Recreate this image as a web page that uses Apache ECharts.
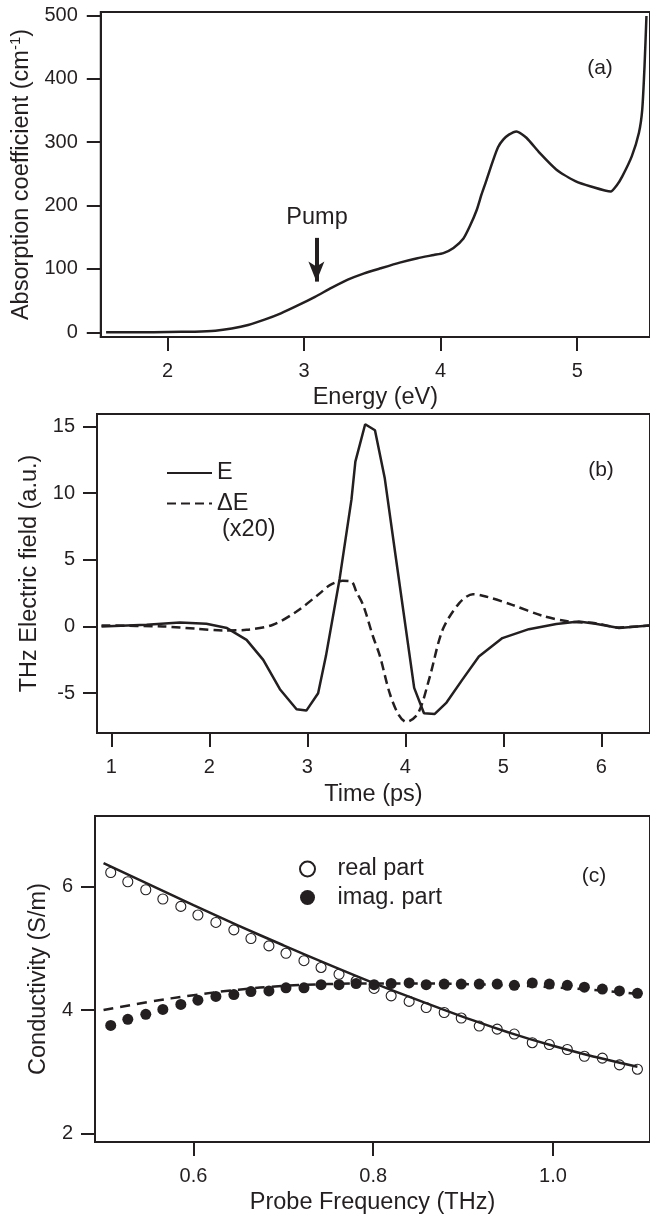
<!DOCTYPE html>
<html>
<head>
<meta charset="utf-8">
<title>Absorption, THz field and conductivity</title>
<script src="https://cdn.jsdelivr.net/npm/echarts@6/dist/echarts.min.js"></script>
<style>
  html, body { margin: 0; padding: 0; background: #fff; }
  #chart { width: 650px; height: 1218px; }
</style>
</head>
<body>
<div id="chart"></div>
<script>
// (a) absorption spectrum
const energy = [1.55, 1.8, 2.0, 2.2, 2.35, 2.47, 2.59, 2.71, 2.83, 2.95, 3.08, 3.2, 3.32, 3.44, 3.56, 3.7, 3.83, 3.95,
  4.02, 4.094, 4.167, 4.215, 4.264, 4.3, 4.337, 4.385, 4.42, 4.458, 4.5, 4.555, 4.628, 4.725, 4.846, 4.99, 5.1,
  5.245, 5.29, 5.33, 5.4, 5.452, 5.476, 5.493, 5.507];
const absorption = [0, 0, 0.5, 1, 2.5, 6, 11.5, 20, 30, 42, 56, 70, 83, 93, 101, 110, 117, 122,
  125, 133, 148, 168, 193, 218, 241, 272, 292, 304, 312, 317, 307, 283, 257, 238, 230,
  222, 232, 246, 278, 315, 351, 420, 499];
const pumpArrow = [[3.09, 149], [3.09, 80]];

// (b) THz field and pump-induced change (x20)
const timeE = [0.9, 1.36, 1.7, 1.97, 2.18, 2.38, 2.55, 2.72, 2.89, 2.99, 3.11, 3.19, 3.33, 3.45, 3.49, 3.59, 3.69, 3.79,
  3.906, 4.09, 4.19, 4.3, 4.42, 4.58, 4.75, 4.99, 5.26, 5.54, 5.77, 5.94, 6.18, 6.49];
const fieldE = [0, 0.13, 0.3, 0.2, -0.12, -1.0, -2.5, -4.7, -6.2, -6.3, -5.0, -2.2, 3.6, 9.5, 12.35, 15.15, 14.7, 11.1,
  5.0, -4.6, -6.5, -6.55, -5.7, -4.0, -2.25, -0.87, -0.2, 0.18, 0.37, 0.2, -0.12, 0.08];
const timeDE = [0.9, 1.53, 1.87, 2.14, 2.38, 2.65, 2.89, 3.13, 3.23, 3.36, 3.45, 3.5, 3.57, 3.67, 3.74, 3.84, 3.93, 4.01,
  4.13, 4.25, 4.38, 4.55, 4.69, 4.82, 5.09, 5.4, 5.67, 5.94, 6.18, 6.49];
const fieldDE = [0.08, 0, -0.17, -0.3, -0.25, 0.13, 1.12, 2.5, 3.1, 3.42, 3.37, 2.6, 1.6, -0.75, -2.2, -5.0, -6.6, -7.15,
  -6.5, -3.75, -0.25, 1.75, 2.42, 2.25, 1.62, 0.8, 0.37, 0.25, -0.07, 0.08];

// (c) conductivity
const freq = [0.508, 0.527, 0.547, 0.566, 0.586, 0.605, 0.625, 0.645, 0.664, 0.684, 0.703, 0.723, 0.742, 0.762, 0.781,
  0.801, 0.820, 0.840, 0.859, 0.879, 0.898, 0.918, 0.938, 0.957, 0.977, 0.996, 1.016, 1.035, 1.055, 1.074, 1.094];
const realPart = [6.23, 6.08, 5.95, 5.80, 5.68, 5.54, 5.42, 5.30, 5.16, 5.04, 4.92, 4.80, 4.69, 4.58, 4.47,
  4.35, 4.23, 4.14, 4.04, 3.96, 3.87, 3.74, 3.69, 3.61, 3.47, 3.44, 3.36, 3.25, 3.22, 3.11, 3.04];
const imagPart = [3.75, 3.85, 3.93, 4.01, 4.09, 4.16, 4.22, 4.25, 4.30, 4.31, 4.36, 4.36, 4.41, 4.41, 4.43,
  4.41, 4.43, 4.44, 4.41, 4.42, 4.42, 4.42, 4.42, 4.40, 4.44, 4.42, 4.40, 4.37, 4.34, 4.31, 4.27];
const fitFreq = [0.50, 0.55, 0.60, 0.65, 0.70, 0.75, 0.80, 0.85, 0.90, 0.95, 1.00, 1.05, 1.094];
const realFit = [6.38, 6.04, 5.70, 5.37, 5.05, 4.74, 4.44, 4.16, 3.89, 3.64, 3.42, 3.23, 3.08];
const imagFit = [4.00, 4.13, 4.24, 4.33, 4.39, 4.42, 4.43, 4.43, 4.42, 4.40, 4.37, 4.32, 4.26];

const ink = '#231f20';
const font = 'Liberation Sans, Arial, sans-serif';
const nameSize = 23.5;

const pairs = (xs, ys) => xs.map((x, i) => [x, ys[i]]);

// shared look of every axis
function axis(extra, ticks, margin, fmt) {
  return Object.assign({
    type: 'value',
    splitLine: { show: false },
    axisLine: { show: true, onZero: false, lineStyle: { color: ink, width: 2 } },
    axisTick: { show: true, length: 14, customValues: ticks, lineStyle: { color: ink, width: 2 } },
    axisLabel: { customValues: ticks, margin: margin, color: ink, fontSize: 20, fontFamily: font, formatter: fmt },
    nameLocation: 'middle',
    nameTextStyle: { color: ink, fontSize: nameSize, fontFamily: font }
  }, extra);
}

const chart = echarts.init(document.getElementById('chart'));
chart.setOption({
  animation: false,
  textStyle: { fontFamily: font },
  grid: [
    { left: 98, top: 12, width: 553, height: 325, show: true, borderColor: ink, borderWidth: 2 },
    { left: 97, top: 414, width: 554, height: 319, show: true, borderColor: ink, borderWidth: 2 },
    { left: 95, top: 816, width: 556, height: 326, show: true, borderColor: ink, borderWidth: 2 }
  ],
  xAxis: [
    axis({ gridIndex: 0, min: 1.511, max: 5.533, name: 'Energy (eV)', nameGap: 49 }, [2, 3, 4, 5], 24),
    axis({ gridIndex: 1, min: 0.854, max: 6.496, name: 'Time (ps)', nameGap: 50 }, [1, 2, 3, 4, 5, 6], 24),
    axis({ gridIndex: 2, min: 0.4905, max: 1.108, name: 'Probe Frequency (THz)', nameGap: 49 }, [0.6, 0.8, 1.0], 24,
      v => v.toFixed(1))
  ],
  yAxis: [
    axis({
      gridIndex: 0, min: -7.4, max: 505.4, nameGap: 48,
      name: '{t|Absorption coefficient (cm}{s|-1}{t|)}',
      nameTextStyle: {
        color: ink, fontFamily: font,
        rich: {
          t: { fontSize: nameSize, fontFamily: font, color: ink, lineHeight: 27 },
          s: { fontSize: 15, fontFamily: font, color: ink, verticalAlign: 'top', lineHeight: 27 }
        }
      }
    }, [0, 100, 200, 300, 400, 500], 23),
    axis({ gridIndex: 1, min: -7.98, max: 15.92, name: 'THz Electric field (a.u.)', nameGap: 37 }, [-5, 0, 5, 10, 15], 22),
    axis({ gridIndex: 2, min: 1.86, max: 7.146, name: 'Conductivity (S/m)', nameGap: 39 }, [2, 4, 6], 22)
  ],
  legend: [
    {
      data: ['E', 'ΔE'], orient: 'vertical', left: 166, top: 461, padding: 0,
      itemWidth: 45, itemHeight: 14, itemGap: 6.5,
      itemStyle: { opacity: 0 },
      textStyle: { color: ink, fontSize: nameSize, fontFamily: font }
    },
    {
      data: ['real part', 'imag. part'], orient: 'vertical', left: 299, top: 857, padding: 0,
      itemWidth: 50, itemHeight: 15, itemGap: 4.5,
      textStyle: { color: ink, fontSize: nameSize, fontFamily: font }
    }
  ],
  series: [
    {
      name: 'absorption', type: 'line', xAxisIndex: 0, yAxisIndex: 0,
      data: pairs(energy, absorption), symbol: 'none', smooth: 0.2,
      lineStyle: { color: ink, width: 2.5 },
      markLine: {
        silent: true, symbol: ['none', 'arrow'], symbolSize: [12, 20],
        lineStyle: { color: ink, width: 4, type: 'solid' },
        label: { show: false },
        data: [[{ coord: pumpArrow[0] }, { coord: pumpArrow[1] }]]
      }
    },
    {
      name: 'E', type: 'line', xAxisIndex: 1, yAxisIndex: 1,
      data: pairs(timeE, fieldE), symbol: 'none',
      itemStyle: { color: ink },
      lineStyle: { color: ink, width: 2.5 }
    },
    {
      name: 'ΔE', type: 'line', xAxisIndex: 1, yAxisIndex: 1,
      data: pairs(timeDE, fieldDE), symbol: 'none', smooth: 0.3,
      itemStyle: { color: ink },
      lineStyle: { color: ink, width: 2.5, type: [9, 5] }
    },
    {
      name: 'real part', type: 'scatter', xAxisIndex: 2, yAxisIndex: 2,
      data: pairs(freq, realPart), symbol: 'circle', symbolSize: 10,
      itemStyle: { color: '#fff', borderColor: ink, borderWidth: 1.1, opacity: 1 }
    },
    {
      name: 'real fit', type: 'line', xAxisIndex: 2, yAxisIndex: 2,
      data: pairs(fitFreq, realFit), symbol: 'none', smooth: true,
      lineStyle: { color: ink, width: 2.5 }
    },
    {
      name: 'imag fit', type: 'line', xAxisIndex: 2, yAxisIndex: 2,
      data: pairs(fitFreq, imagFit), symbol: 'none', smooth: true,
      lineStyle: { color: ink, width: 2.5, type: [10, 7] }
    },
    {
      name: 'imag. part', type: 'scatter', xAxisIndex: 2, yAxisIndex: 2,
      data: pairs(freq, imagPart), symbol: 'circle', symbolSize: 11,
      itemStyle: { color: ink, opacity: 1 }
    }
  ],
  graphic: [
    { type: 'text', x: 317, y: 218, style: { text: 'Pump', fill: ink, fontSize: nameSize, fontFamily: font, align: 'center', verticalAlign: 'middle' } },
    { type: 'text', x: 600, y: 68, style: { text: '(a)', fill: ink, fontSize: 21, fontFamily: font, align: 'center', verticalAlign: 'middle' } },
    { type: 'text', x: 601, y: 470, style: { text: '(b)', fill: ink, fontSize: 21, fontFamily: font, align: 'center', verticalAlign: 'middle' } },
    { type: 'text', x: 594, y: 876, style: { text: '(c)', fill: ink, fontSize: 21, fontFamily: font, align: 'center', verticalAlign: 'middle' } },
    { type: 'text', x: 222, y: 530, style: { text: '(x20)', fill: ink, fontSize: nameSize, fontFamily: font, align: 'left', verticalAlign: 'middle' } }
  ]
});
</script>
</body>
</html>
